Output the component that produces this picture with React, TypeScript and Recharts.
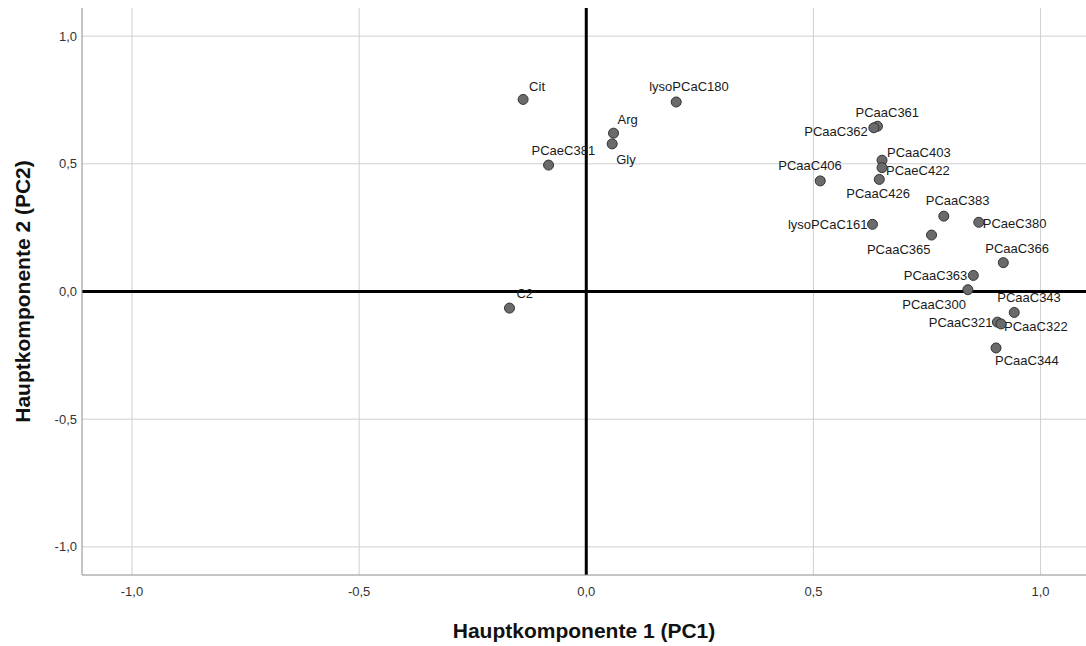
import React from 'react';
import { ScatterChart, Scatter, XAxis, YAxis, ReferenceLine, Label } from 'recharts';

const names = ['Cit', 'lysoPCaC180', 'Arg', 'Gly', 'PCaeC381', 'C2', 'PCaaC361', 'PCaaC362', 'PCaaC403', 'PCaeC422', 'PCaaC426', 'PCaaC406', 'PCaaC383', 'PCaeC380', 'lysoPCaC161', 'PCaaC365', 'PCaaC366', 'PCaaC363', 'PCaaC300', 'PCaaC343', 'PCaaC321', 'PCaaC322', 'PCaaC344'];
const pc1 = [-0.139, 0.198, 0.060, 0.057, -0.083, -0.169, 0.641, 0.633, 0.651, 0.651, 0.645, 0.515, 0.787, 0.864, 0.630, 0.760, 0.918, 0.852, 0.840, 0.942, 0.905, 0.913, 0.902];
const pc2 = [0.752, 0.742, 0.620, 0.578, 0.495, -0.065, 0.647, 0.641, 0.514, 0.485, 0.439, 0.433, 0.295, 0.271, 0.263, 0.221, 0.113, 0.063, 0.007, -0.082, -0.120, -0.127, -0.221];
const xTicks = [-1, -0.5, 0, 0.5, 1];
const yTicks = [-1, -0.5, 0, 0.5, 1];
const xTitle = 'Hauptkomponente 1 (PC1)';
const yTitle = 'Hauptkomponente 2 (PC2)';

// label placement (style): [dx, dy, anchor]
const labelPlacement: Record<string, [number, number, 'start' | 'end']> = {
  Cit: [6, -12.5, 'start'],
  lysoPCaC180: [-27, -15, 'start'],
  Arg: [4, -14, 'start'],
  Gly: [4, 16, 'start'],
  PCaeC381: [-17, -15, 'start'],
  C2: [7, -15, 'start'],
  PCaaC361: [-22, -14, 'start'],
  PCaaC362: [-6, 4, 'end'],
  PCaaC403: [5, -8, 'start'],
  PCaeC422: [4, 3, 'start'],
  PCaaC426: [-33, 14, 'start'],
  PCaaC406: [-42, -15, 'start'],
  PCaaC383: [-18, -16, 'start'],
  PCaeC380: [4, 1, 'start'],
  lysoPCaC161: [-5, 0, 'end'],
  PCaaC365: [-1, 14, 'end'],
  PCaaC366: [-18, -14, 'start'],
  PCaaC363: [-6, 0, 'end'],
  PCaaC300: [-2, 15, 'end'],
  PCaaC343: [-17, -15, 'start'],
  PCaaC321: [-5, 0, 'end'],
  PCaaC322: [3, 3, 'start'],
  PCaaC344: [-1, 13, 'start'],
};

const data = names.map((n, i) => ({ name: n, x: pc1[i], y: pc2[i] }));

const FONT = '"Liberation Sans", Arial, sans-serif';
const fmt = (v: number) => v.toFixed(1).replace('.', ',');

const LabelShape = (props: any) => {
  const { cx, cy, payload } = props;
  const p = labelPlacement[payload.name] || [5, -12, 'start'];
  return (
    <text x={cx + p[0]} y={cy + p[1]} textAnchor={p[2]} dominantBaseline="central" fontSize={13} fontFamily={FONT} fill="#1a1a1a">
      {payload.name}
    </text>
  );
};

const DotShape = (props: any) => {
  const { cx, cy } = props;
  return <circle cx={cx} cy={cy} r={5} fill="#6b6b6b" stroke="#333" strokeWidth={1} />;
};

const XTick = (props: any) => (
  <text x={props.x} y={591} textAnchor="middle" dominantBaseline="central" fontSize={13} fontFamily={FONT} fill="#333">
    {fmt(props.payload.value)}
  </text>
);
const YTick = (props: any) => (
  <text x={77} y={props.y} textAnchor="end" dominantBaseline="central" fontSize={13} fontFamily={FONT} fill="#333">
    {fmt(props.payload.value)}
  </text>
);

export default function App() {
  return (
    <div style={{ position: 'absolute', left: 0, top: 0, width: 1086, height: 646, background: '#fff' }}>
      <ScatterChart width={1086} height={646} margin={{ top: 8, right: 0, bottom: 0, left: 0 }}>
        {xTicks.filter((v) => v !== 0).map((v) => (
          <ReferenceLine key={'gx' + v} x={v} stroke="#cfcfcf" strokeWidth={1} />
        ))}
        {yTicks.filter((v) => v !== 0).map((v) => (
          <ReferenceLine key={'gy' + v} y={v} stroke="#cfcfcf" strokeWidth={1} />
        ))}
        <XAxis type="number" dataKey="x" domain={[-1.11, 1.1]} ticks={xTicks} allowDataOverflow height={71} tickLine={false} axisLine={{ stroke: '#8c8c8c' }} tick={<XTick />} interval={0}>
          <Label content={(p: any) => (
            <text x={p.viewBox.x + p.viewBox.width / 2} y={630} textAnchor="middle" dominantBaseline="central" fontSize={21} fontWeight="bold" fontFamily={FONT} fill="#111">{xTitle}</text>
          )} />
        </XAxis>
        <YAxis type="number" dataKey="y" domain={[-1.11, 1.11]} ticks={yTicks} allowDataOverflow width={82} tickLine={false} axisLine={{ stroke: '#8c8c8c' }} tick={<YTick />} interval={0}>
          <Label content={(p: any) => (
            <text x={22} y={p.viewBox.y + p.viewBox.height / 2} transform={`rotate(-90, 22, ${p.viewBox.y + p.viewBox.height / 2})`} textAnchor="middle" dominantBaseline="central" fontSize={21} fontWeight="bold" fontFamily={FONT} fill="#111">{yTitle}</text>
          )} />
        </YAxis>
        <Scatter data={data} shape={<LabelShape />} isAnimationActive={false} />
        <ReferenceLine x={0} stroke="#000" strokeWidth={3} />
        <ReferenceLine y={0} stroke="#000" strokeWidth={3} />
        <Scatter data={data} shape={<DotShape />} isAnimationActive={false} />
      </ScatterChart>
    </div>
  );
}
